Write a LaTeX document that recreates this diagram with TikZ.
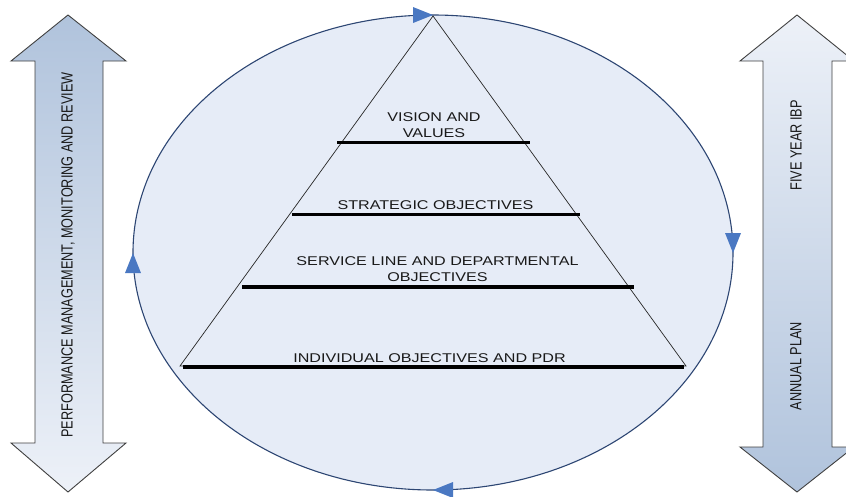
\documentclass[tikz,border=0pt]{standalone}
\usepackage{fontspec}
\usepackage{graphicx}
\usepackage{tikz}
\usetikzlibrary{positioning}
\newfontfamily\diagfont{Liberation Sans}
\newfontfamily\widefont[FakeStretch=1.27]{Liberation Sans}
\definecolor{cyclefill}{RGB}{230,236,247}
\definecolor{cycleline}{RGB}{45,70,115}
\definecolor{cyclearrow}{RGB}{74,120,194}
\definecolor{barlight}{RGB}{237,241,248}
\definecolor{bardark}{RGB}{176,195,220}
\definecolor{outline}{RGB}{64,64,64}
\tikzset{
  tier/.style={font=\widefont\fontsize{12.7}{15.5}\selectfont,align=center,anchor=base,inner sep=0pt},
  side/.style={font=\diagfont\fontsize{12.7}{15}\selectfont,rotate=90,inner sep=0pt},
  divider/.style={line width=3.8pt,black},
  dblarrow/.style={draw=outline,line width=0.9pt,line join=miter}
}

\begin{document}
\begin{tikzpicture}[x=1pt,y=-1pt,text=black!90]
\useasboundingbox (0,0) rectangle (846,496);
\path[dblarrow,top color=bardark,bottom color=barlight] (68,15)--(126,61)--(103,61)--(103,443)--(126,443)--(68,492)--(11,443)--(35,443)--(35,61)--(11,61)--cycle;
\path[dblarrow,top color=barlight,bottom color=bardark] (797,15)--(854,61)--(832,61)--(832,447)--(854,447)--(797,492)--(740,447)--(763,447)--(763,61)--(740,61)--cycle;
\node[side] (review) at (68,255) {\scalebox{1}[1.27]{PERFORMANCE MANAGEMENT, MONITORING AND REVIEW}};
\node[side] (ibp) at (796,145.5) {\scalebox{1}[1.27]{FIVE YEAR IBP}};
\node[side] (annual) at (796,366) {\scalebox{1}[1.27]{ANNUAL PLAN}};
\draw[cycleline,fill=cyclefill,line width=1.1pt] (433,252.5) ellipse [x radius=300,y radius=237.5];
\foreach \px/\py/\ang in {433/15/0,733/253/-90,433/490/180,133/253/90}
  \fill[cyclearrow,shift={(\px,\py)},rotate=\ang] (0,0)--(-20,-8)--(-20,8)--cycle;
\draw[black!85,line width=0.7pt] (433,16)--(686,366)--(180,366)--cycle;
\draw[divider] (337,142.5)--(530,142.5);
\draw[divider] (292,214.5)--(580,214.5);
\draw[divider] (242,287)--(634,287);
\draw[divider] (183,367)--(684,367);
\node[tier] (vision) at (434,137) {VISION AND\\VALUES};
\node[tier] (strategic) at (435.5,209.5) {STRATEGIC OBJECTIVES};
\node[tier] (service) at (437.5,281) {SERVICE LINE AND DEPARTMENTAL\\OBJECTIVES};
\node[tier] (individual) at (429.5,362) {INDIVIDUAL OBJECTIVES AND PDR};
\end{tikzpicture}
\end{document}
